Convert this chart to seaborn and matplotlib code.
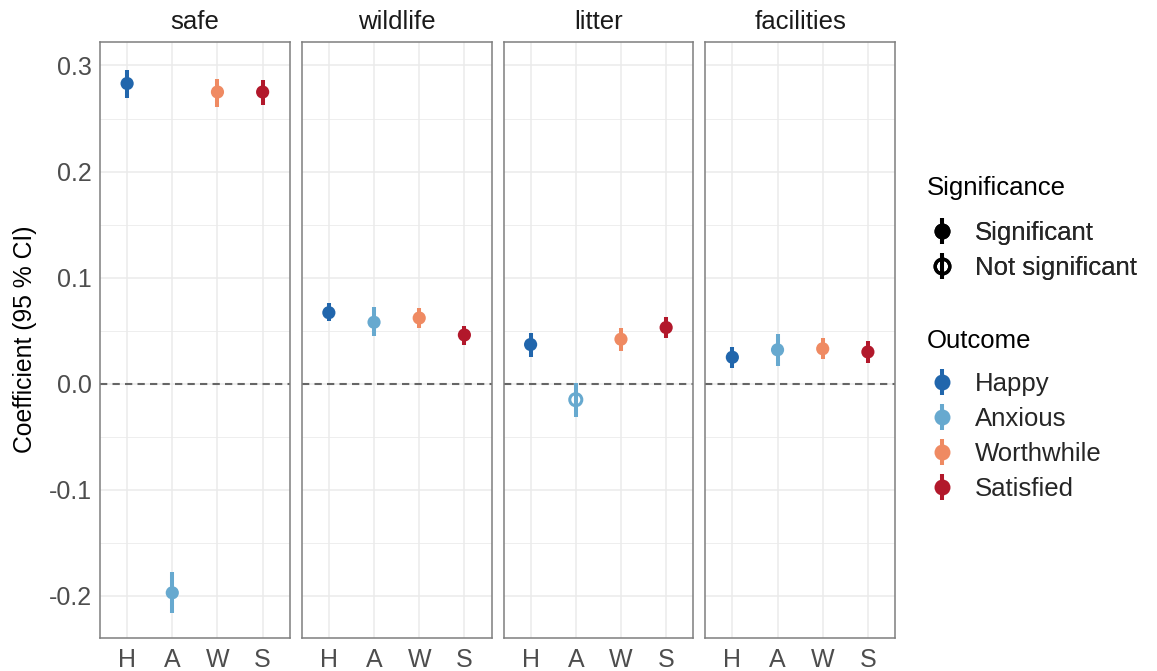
import matplotlib
matplotlib.use("Agg")
import matplotlib.pyplot as plt
import seaborn as sns
import pandas as pd
import numpy as np
from matplotlib.lines import Line2D
from matplotlib.legend_handler import HandlerTuple

sns.set_theme(style="white")
plt.rcParams['font.family'] = ['Liberation Sans', 'DejaVu Sans']

# ---- data ----
factors = ["safe", "wildlife", "litter", "facilities"]
outcomes = ["Happy", "Anxious", "Worthwhile", "Satisfied"]
outcome_abbr = ["H", "A", "W", "S"]
palette = ["#2166AC", "#67A9CF", "#EF8A62", "#B2182B"]

# coefficient estimates per factor (order: Happy, Anxious, Worthwhile, Satisfied)
est_safe = [0.283, -0.197, 0.275, 0.275]
lo_safe = [0.269, -0.216, 0.261, 0.263]
hi_safe = [0.296, -0.177, 0.287, 0.286]

est_wildlife = [0.067, 0.058, 0.062, 0.046]
lo_wildlife = [0.059, 0.045, 0.053, 0.037]
hi_wildlife = [0.076, 0.072, 0.071, 0.054]

est_litter = [0.037, -0.015, 0.042, 0.053]
lo_litter = [0.025, -0.031, 0.031, 0.043]
hi_litter = [0.048, 0.001, 0.053, 0.063]

est_facilities = [0.025, 0.032, 0.033, 0.030]
lo_facilities = [0.015, 0.017, 0.023, 0.020]
hi_facilities = [0.035, 0.047, 0.043, 0.040]

sig_safe = [True, True, True, True]
sig_wildlife = [True, True, True, True]
sig_litter = [True, False, True, True]
sig_facilities = [True, True, True, True]

rows = []
for f, est, lo, hi, sig in [
    ("safe", est_safe, lo_safe, hi_safe, sig_safe),
    ("wildlife", est_wildlife, lo_wildlife, hi_wildlife, sig_wildlife),
    ("litter", est_litter, lo_litter, hi_litter, sig_litter),
    ("facilities", est_facilities, lo_facilities, hi_facilities, sig_facilities),
]:
    for i, o in enumerate(outcomes):
        rows.append(dict(factor=f, outcome=o, pos=i, est=est[i], lo=lo[i], hi=hi[i],
                         sig="Significant" if sig[i] else "Not significant"))
df = pd.DataFrame(rows)
cmap = dict(zip(outcomes, palette))

W, H = 1157, 671
fig, axes = plt.subplots(1, 4, sharey=True, figsize=(W/100, H/100), dpi=100)
fig.subplots_adjust(left=100/W, right=895/W, top=1-41.5/H, bottom=1-638/H,
                    wspace=12/189.75)

border = "#7F7F7F"
gridc = "#EBEBEB"
for ax, f in zip(axes, factors):
    sub = df[df.factor == f]
    ax.set_axisbelow(True)
    ax.axhline(0, color="#666666", lw=1.5, ls=(0, (3.5, 2.5)), zorder=1)
    ax.vlines(sub.pos, sub.lo, sub.hi, colors=[cmap[o] for o in sub.outcome],
              lw=2.9, zorder=2, capstyle="butt")
    s = sub[sub.sig == "Significant"]
    sns.scatterplot(data=s, x="pos", y="est", hue="outcome", palette=cmap,
                    hue_order=outcomes, s=90, linewidth=0, ax=ax, legend=False, zorder=3)
    ns = sub[sub.sig != "Significant"]
    if len(ns):
        ax.scatter(ns.pos, ns.est, s=75, facecolors="none",
                   edgecolors=[cmap[o] for o in ns.outcome], linewidths=2.2, zorder=3)
    ax.set_xlim(-0.6, 3.6)
    ax.set_ylim(-0.2396, 0.3226)
    ax.set_xticks(range(4))
    ax.set_xticklabels(outcome_abbr)
    ax.set_yticks([-0.2, -0.1, 0.0, 0.1, 0.2, 0.3])
    ax.set_yticklabels(["-0.2", "-0.1", "0.0", "0.1", "0.2", "0.3"])
    ax.set_yticks(np.arange(-0.15, 0.31, 0.1), minor=True)
    ax.grid(True, which="major", color=gridc, lw=1.1)
    ax.grid(True, which="minor", axis="y", color=gridc, lw=0.6)
    ax.tick_params(axis="both", which="both", length=0, labelsize=18, colors="#4D4D4D", pad=6)
    ax.tick_params(axis="x", pad=7)
    for sp in ax.spines.values():
        sp.set_color(border)
        sp.set_linewidth(1.1)
    ax.set_xlabel("")
    ax.set_ylabel("")
    ax.set_title(f, fontsize=18.5, color="#1A1A1A", pad=9)

axes[0].set_ylabel("Coefficient (95 % CI)", fontsize=17.8, color="black", labelpad=8)

# ---- legends ----
def key(c, filled=True):
    bar = Line2D([], [], marker="|", markersize=19, mew=2.9, color=c, ls="")
    if filled:
        dot = Line2D([], [], marker="o", markersize=11.5, color=c, mew=0, ls="")
    else:
        dot = Line2D([], [], marker="o", markersize=10.5, markerfacecolor="none",
                     markeredgecolor=c, mew=2.4, ls="")
    return (bar, dot)

fs = 18.5
lx = 926.5
fig.text(927/W, 1-188/H, "Significance", fontsize=fs, va="center", ha="left", color="black")
fig.text(927/W, 1-341/H, "Outcome", fontsize=fs, va="center", ha="left", color="black")

common = dict(handler_map={tuple: HandlerTuple(ndivide=1)}, loc="upper left",
              frameon=False, fontsize=fs, handlelength=1.2, handletextpad=0.68,
              labelspacing=0.43, borderpad=0, borderaxespad=0)
leg1 = fig.legend([key("black", True), key("black", False)],
                  ["Significant", "Not significant"],
                  bbox_to_anchor=(lx/W, 1-(231-10.5)/H), **common)
fig.add_artist(leg1)
leg2 = fig.legend([key(c, True) for c in palette], outcomes,
                  bbox_to_anchor=(lx/W, 1-(382-10.5)/H), **common)

fig.savefig("out.png", dpi=100)
